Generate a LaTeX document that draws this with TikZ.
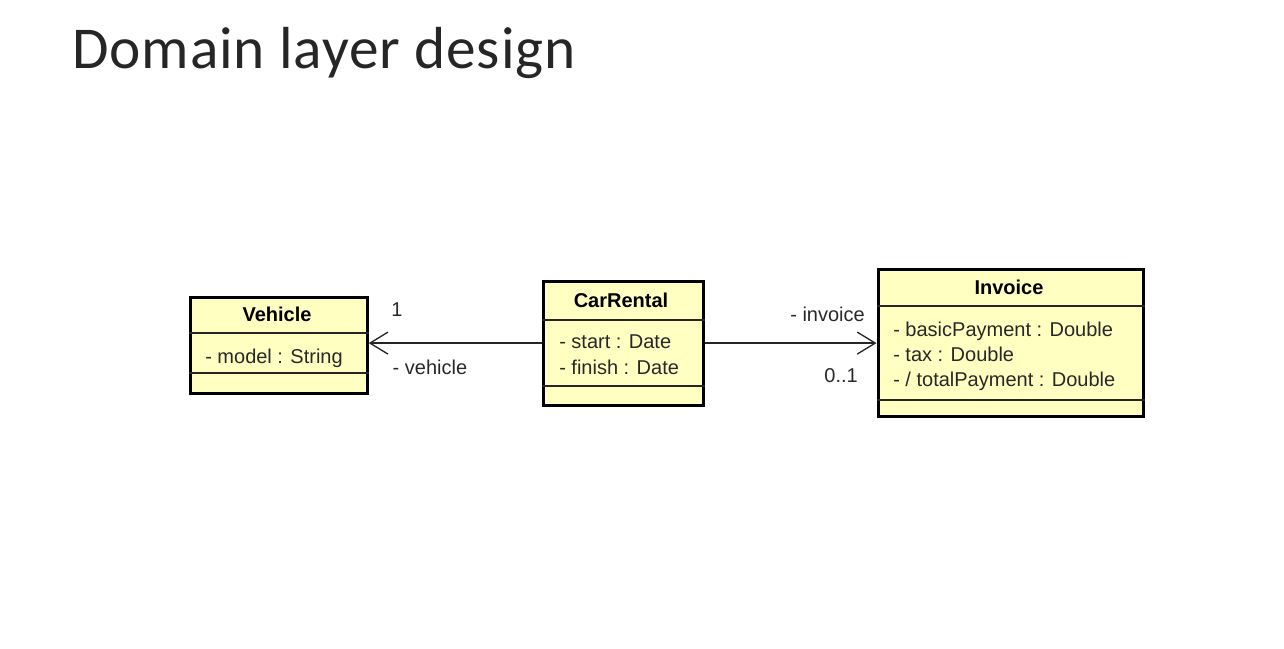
\documentclass[tikz,border=0pt]{standalone}
\usepackage{fontspec}
\setmainfont{Liberation Sans}
\newfontfamily\titlefont[LetterSpace=1.5]{Carlito}
\usetikzlibrary{arrows.meta,positioning}
\definecolor{classfill}{RGB}{255,255,194}
\definecolor{attrgray}{RGB}{40,40,40}

\begin{document}
\begin{tikzpicture} [
    x=0.75pt, y=-0.75pt,
    umlclass/.style={rectangle, draw=black, line width=2.4pt, fill=classfill, inner sep=0pt, anchor=north west},
    classname/.style={font=\bfseries\fontsize{15pt}{18pt}\selectfont, inner sep=0pt},
    attr/.style={font=\fontsize{15pt}{18pt}\selectfont, text=attrgray, inner sep=0pt, anchor=base west},
    divider/.style={draw=black!85, line width=0.9pt},
    assoc/.style={draw=black!85, line width=1pt},
    mult/.style={font=\fontsize{15pt}{18pt}\selectfont, text=attrgray, inner sep=0pt},
    >={Straight Barb[length=13.5pt,width=16.5pt]}
    ]
    \useasboundingbox (0,0) rectangle (1284,649);

    %Title
    \node[font=\titlefont\fontsize{44.5pt}{52pt}\selectfont, text=black!85, anchor=base west, inner sep=0pt] (title) at (72,69) {Domain layer design};

    %Classes
    \node[umlclass, minimum width=177*0.75pt, minimum height=96*0.75pt] (vehicle) at (188.5,295.5) {};
    \node[umlclass, minimum width=160*0.75pt, minimum height=124*0.75pt] (carrental) at (541.5,279.5) {};
    \node[umlclass, minimum width=265*0.75pt, minimum height=147*0.75pt] (invoice) at (876.5,267.5) {};

    %Compartments
    \draw[divider] (vehicle.west |- 0,333) -- (vehicle.east |- 0,333);
    \draw[divider] (vehicle.west |- 0,373) -- (vehicle.east |- 0,373);
    \draw[divider] (carrental.west |- 0,320) -- (carrental.east |- 0,320);
    \draw[divider] (carrental.west |- 0,386) -- (carrental.east |- 0,386);
    \draw[divider] (invoice.west |- 0,306) -- (invoice.east |- 0,306);
    \draw[divider] (invoice.west |- 0,400) -- (invoice.east |- 0,400);

    %Names and attributes
    \node[classname] (vehiclename) at (277,314) {Vehicle};
    \node[attr]      (vmodel)      at (205,363) {- model : String};
    \node[classname] (rentalname)  at (621,300) {CarRental};
    \node[attr]      (rstart)      at (559,348) {- start : Date};
    \node[attr]      (rfinish)     [below=26*0.75pt of rstart.base west, anchor=base west] {- finish : Date};
    \node[classname] (invoicename) at (1009,287) {Invoice};
    \node[attr]      (ibasic)      at (893,336) {- basicPayment : Double};
    \node[attr]      (itax)        [below=25*0.75pt of ibasic.base west, anchor=base west] {- tax : Double};
    \node[attr]      (itotal)      [below=25*0.75pt of itax.base west, anchor=base west] {- / totalPayment : Double};

    %Lines
    \draw[assoc,->] (carrental.west) -- (vehicle.east |- carrental.west)
        node[mult, at end, anchor=base west, xshift=16.5pt, yshift=19.9pt] {1}
        node[mult, at end, anchor=base west, xshift=17.5pt, yshift=-23.6pt] {- vehicle};
    \draw[assoc,->] (carrental.east) -- (invoice.west |- carrental.east)
        node[mult, at end, anchor=base east, xshift=-8.3pt, yshift=16.1pt] {- invoice}
        node[mult, at end, anchor=base east, xshift=-13.5pt, yshift=-29.4pt] {0..1};

\end{tikzpicture}
\end{document}
